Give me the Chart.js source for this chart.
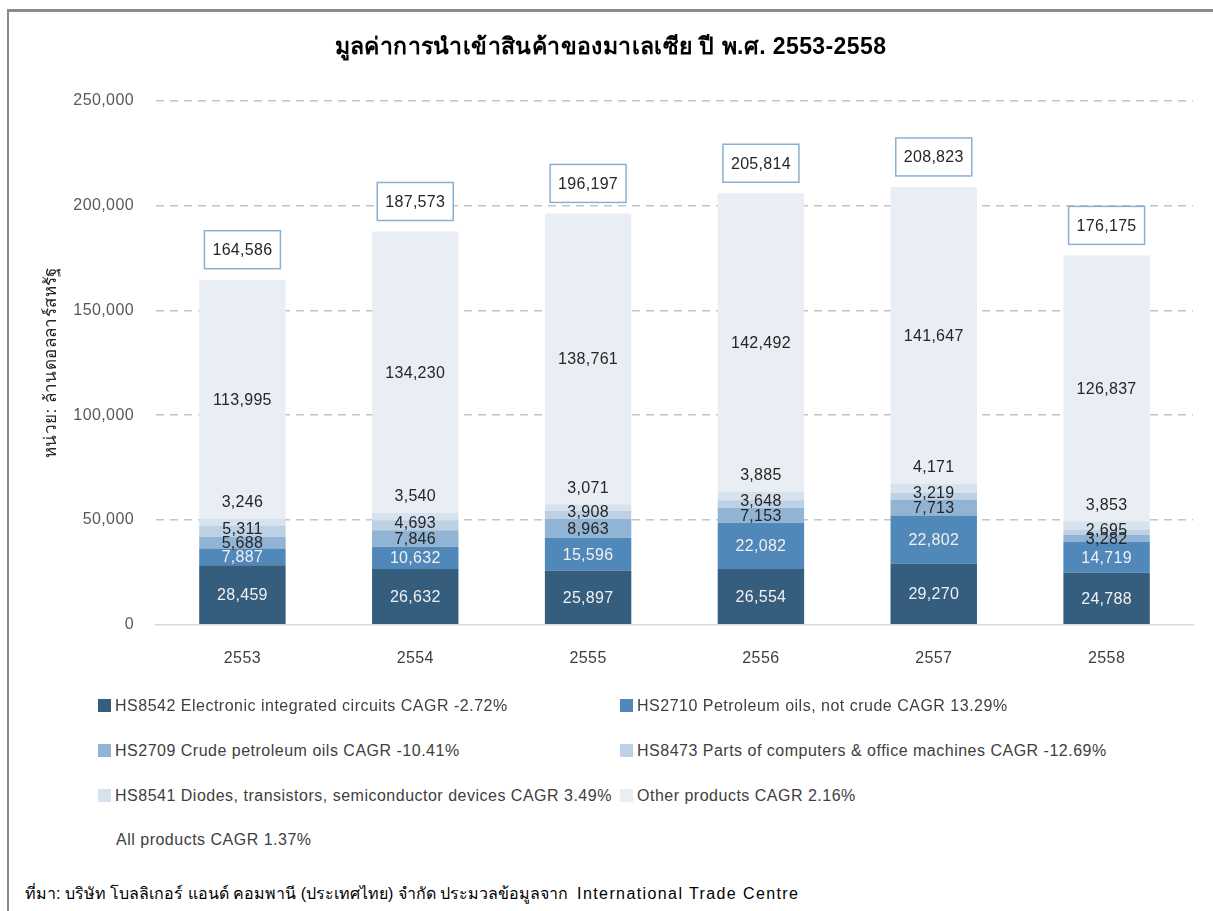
<!DOCTYPE html>
<html>
<head>
<meta charset="utf-8">
<script src="https://cdn.jsdelivr.net/npm/chart.js@4.4.0/dist/chart.umd.min.js"></script>
<style>
  body { margin: 0; background: #fff; font-family: "Liberation Sans", Arial, sans-serif; }
  #frame { position: absolute; left: 7px; top: 9px; width: 1220px; height: 920px;
           border-left: 2px solid #8a8a8a; border-top: 3px solid #8a8a8a; }
  #wrap { position: absolute; left: 10px; top: 12px; }
  .leg { position: absolute; font-size: 16px; letter-spacing: 0.5px; color: #404040; white-space: nowrap; line-height: 18px; }
  .leg span.box { display: inline-block; width: 13px; height: 13px; margin-right: 4px; vertical-align: -1px; }
  #source { position: absolute; left: 25px; top: 881px; font-size: 16px; color: #000; white-space: nowrap; }
  #source span { letter-spacing: 1.4px; }
</style>
</head>
<body>
<div id="frame"></div>
<div id="wrap"><canvas id="myChart" width="1200" height="696"></canvas></div>
<div id="legend"></div>
<div id="source">ที่มา: บริษัท โบลลิเกอร์ แอนด์ คอมพานี (ประเทศไทย) จำกัด ประมวลข้อมูลจาก&nbsp; <span>International Trade Centre</span></div>
<script>
// data (million USD)
const years = ['2553', '2554', '2555', '2556', '2557', '2558'];
const hs8542 = [28459, 26632, 25897, 26554, 29270, 24788];
const hs2710 = [7887, 10632, 15596, 22082, 22802, 14719];
const hs2709 = [5688, 7846, 8963, 7153, 7713, 3282];
const hs8473 = [5311, 4693, 3908, 3648, 3219, 2695];
const hs8541 = [3246, 3540, 3071, 3885, 4171, 3853];
const others = [113995, 134230, 138761, 142492, 141647, 126837];
const totals = [164586, 187573, 196197, 205814, 208823, 176175];
const yTicks = [0, 50000, 100000, 150000, 200000, 250000];

const seriesNames = [
    'HS8542 Electronic integrated circuits CAGR -2.72%',
    'HS2710 Petroleum oils, not crude CAGR 13.29%',
    'HS2709 Crude petroleum oils CAGR -10.41%',
    'HS8473 Parts of computers & office machines CAGR -12.69%',
    'HS8541 Diodes, transistors, semiconductor devices CAGR 3.49%',
    'Other products CAGR 2.16%'
];
const allProductsNote = 'All products CAGR 1.37%';

const colors = ['#355d7e', '#5089b9', '#92b4d4', '#bdd0e4', '#d6e3ef', '#e9eef5'];
const labelColors = ['#f0f0f0', '#f0f0f0', '#262626', '#262626', '#262626', '#262626'];
const seriesData = [hs8542, hs2710, hs2709, hs8473, hs8541, others];

const fontFamily = '"Liberation Sans", Arial, sans-serif';

// a bit of letter spacing so the axis text is as wide as the original
const spacingPlugin = {
    id: 'spacing',
    beforeDraw(chart) { chart.ctx.letterSpacing = '0.4px'; }
};

// value labels inside the stacks + total boxes on top
const labelPlugin = {
    id: 'labels',
    afterDatasetsDraw(chart) {
        const ctx = chart.ctx;
        ctx.save();
        ctx.font = '16px ' + fontFamily;
        ctx.letterSpacing = '0.3px';
        ctx.textAlign = 'center';
        ctx.textBaseline = 'middle';
        chart.data.datasets.forEach((ds, i) => {
            const meta = chart.getDatasetMeta(i);
            meta.data.forEach((bar, j) => {
                let y = (bar.y + bar.base) / 2;
                if (i === 4) y = bar.y - 17;       // HS8541 label sits above its slice
                if (i === 3) y = y - 3;
                ctx.fillStyle = labelColors[i];
                ctx.fillText(ds.data[j].toLocaleString('en-US'), bar.x, y + 1);
            });
        });
        // totals
        const top = chart.getDatasetMeta(chart.data.datasets.length - 1);
        top.data.forEach((bar, j) => {
            const cy = bar.y - 30;
            const w = 76, h = 38;
            ctx.fillStyle = '#fff';
            ctx.fillRect(bar.x - w / 2, cy - h / 2, w, h);
            ctx.strokeStyle = '#89b0d4';
            ctx.lineWidth = 1.5;
            ctx.strokeRect(bar.x - w / 2, cy - h / 2, w, h);
            ctx.fillStyle = '#262626';
            ctx.fillText(totals[j].toLocaleString('en-US'), bar.x, cy + 1);
        });
        ctx.restore();
    }
};

const ctx = document.getElementById('myChart').getContext('2d');
window.myChart = new Chart(ctx, {
    type: 'bar',
    data: {
        labels: years,
        datasets: seriesData.map((d, i) => ({
            label: seriesNames[i],
            data: d,
            backgroundColor: colors[i],
            borderWidth: 0,
            barPercentage: 0.5,
            categoryPercentage: 1
        }))
    },
    options: {
        responsive: false,
        devicePixelRatio: 1,
        animation: false,
        layout: { padding: { left: 18, right: 17, top: 0, bottom: 16 } },
        plugins: {
            legend: { display: false },
            tooltip: { enabled: false },
            title: {
                display: true,
                text: 'มูลค่าการนำเข้าสินค้าของมาเลเซีย ปี พ.ศ. 2553-2558',
                color: '#000',
                font: { family: fontFamily, size: 23, weight: 'bold' },
                padding: { top: 22, bottom: 39 }
            }
        },
        scales: {
            x: {
                stacked: true,
                grid: { display: false, drawTicks: false },
                border: { display: true, color: '#d9d9d9', width: 1.5 },
                ticks: { color: '#404040', font: { family: fontFamily, size: 16 }, padding: 24 }
            },
            y: {
                stacked: true,
                min: 0,
                max: 250000,
                afterBuildTicks(scale) {
                    scale.ticks = yTicks.map(v => ({ value: v }));
                },
                afterFit(scale) { scale.width = 128; },
                grid: {
                    drawTicks: false,
                    lineWidth: 1.5,
                    color: c => c.tick && c.tick.value === 0 ? 'rgba(0,0,0,0)' : '#c3c3c3'
                },
                border: { display: false, dash: [8, 6] },
                ticks: {
                    color: '#595959',
                    padding: 22,
                    font: { family: fontFamily, size: 16 },
                    callback: v => v.toLocaleString('en-US')
                },
                title: {
                    display: true,
                    text: 'หน่วย: ล้านดอลลาร์สหรัฐ',
                    color: '#262626',
                    font: { family: fontFamily, size: 17 },
                    padding: { top: 13, bottom: 0 }
                }
            }
        }
    },
    plugins: [spacingPlugin, labelPlugin]
});

// legend in two columns under the chart
const legendDiv = document.getElementById('legend');
const legX = [98, 620];
const legY = [697, 742, 787];
seriesNames.forEach((name, i) => {
    const el = document.createElement('div');
    el.className = 'leg';
    el.style.left = legX[i % 2] + 'px';
    el.style.top = legY[Math.floor(i / 2)] + 'px';
    el.innerHTML = '<span class="box" style="background:' + colors[i] + '"></span>' + name;
    legendDiv.appendChild(el);
});
const note = document.createElement('div');
note.className = 'leg';
note.style.left = '116px';
note.style.top = '831px';
note.textContent = allProductsNote;
legendDiv.appendChild(note);
</script>
</body>
</html>
